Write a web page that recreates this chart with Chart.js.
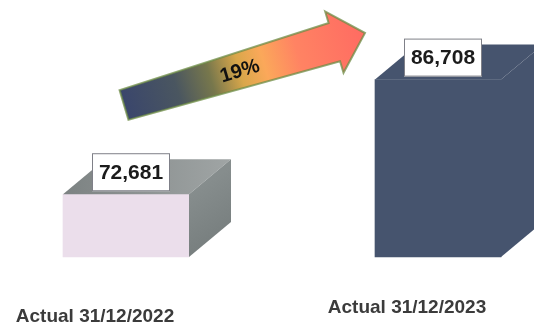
<!DOCTYPE html>
<html>
<head>
<meta charset="utf-8">
<script src="https://cdn.jsdelivr.net/npm/chart.js@4/dist/chart.umd.min.js"></script>
<style>
  body { margin: 0; background: #fff; }
  canvas { display: block; }
</style>
</head>
<body>
<canvas id="myChart" width="534" height="322"></canvas>
<script>
// data
const categories = ['Actual 31/12/2022', 'Actual 31/12/2023'];
const values = [72681, 86708];
const axisMin = 65000, axisMax = 94000;

// look
const frontColors = ['#ebdeeb', '#46546e'];
const topColors = [['#7c8282', '#a0a5a5'], ['#46546e', '#46546e']];
const sideColors = [['#868d8d', '#727979'], ['#46546e', '#46546e']];
const depthX = 42, depthY = -35;
const labelDy = [60, 51]; // category labels sit at slightly different heights

function growthText() {
    return Math.round((values[1] - values[0]) / values[0] * 100) + '%';
}

const boxes3d = {
    id: 'boxes3d',
    afterDatasetsDraw(chart) {
        const ctx = chart.ctx, ca = chart.chartArea;
        const xs = chart.scales.x;
        const meta = chart.getDatasetMeta(0);
        ctx.save();
        meta.data.forEach(function(bar, i) {
            const l = bar.x - bar.width / 2, r = bar.x + bar.width / 2;
            const t = bar.y, b = bar.base;
            // top face
            let g = ctx.createLinearGradient(l, t, r + depthX, t);
            g.addColorStop(0, topColors[i][0]);
            g.addColorStop(1, topColors[i][1]);
            ctx.fillStyle = g;
            ctx.beginPath();
            ctx.moveTo(l, t);
            ctx.lineTo(l + depthX, t + depthY);
            ctx.lineTo(r + depthX, t + depthY);
            ctx.lineTo(r, t);
            ctx.closePath();
            ctx.fill();
            // side face
            g = ctx.createLinearGradient(r, t, r + depthX, b);
            g.addColorStop(0, sideColors[i][0]);
            g.addColorStop(1, sideColors[i][1]);
            ctx.fillStyle = g;
            ctx.beginPath();
            ctx.moveTo(r, t);
            ctx.lineTo(r + depthX, t + depthY);
            ctx.lineTo(r + depthX, b + depthY);
            ctx.lineTo(r, b);
            ctx.closePath();
            ctx.fill();
        });

        // growth arrow
        const tx = xs.getPixelForValue(0) - 2, ty = ca.top + 85;
        const hx = xs.getPixelForValue(1) - 73, hy = ca.top + 13;
        const ang = Math.atan2(hy - ty, hx - tx), L = Math.hypot(hx - tx, hy - ty);
        ctx.save();
        ctx.translate(tx, ty);
        ctx.rotate(ang);
        const ag = ctx.createLinearGradient(0, 0, L, 0);
        ag.addColorStop(0, '#3a466c');
        ag.addColorStop(0.22, '#4a5660');
        ag.addColorStop(0.36, '#77774c');
        ag.addColorStop(0.48, '#d9a74a');
        ag.addColorStop(0.58, '#fba85a');
        ag.addColorStop(0.72, '#ff8363');
        ag.addColorStop(1, '#ff6b62');
        ctx.beginPath();
        ctx.moveTo(0, -15.5);
        ctx.lineTo(L - 32, -20);
        ctx.lineTo(L - 32, -32);
        ctx.lineTo(L, 0);
        ctx.lineTo(L - 32, 32);
        ctx.lineTo(L - 32, 20);
        ctx.lineTo(0, 15.5);
        ctx.closePath();
        ctx.fillStyle = ag;
        ctx.fill();
        ctx.lineWidth = 2;
        ctx.strokeStyle = 'rgba(110,140,70,0.75)';
        ctx.stroke();
        ctx.fillStyle = '#111';
        ctx.font = 'bold 20px "Liberation Sans", Arial, sans-serif';
        ctx.textAlign = 'center';
        ctx.textBaseline = 'middle';
        ctx.fillText(growthText(), L * 0.48, 1);
        ctx.restore();

        // value boxes
        ctx.font = 'bold 21px "Liberation Sans", Arial, sans-serif';
        ctx.textAlign = 'center';
        ctx.textBaseline = 'middle';
        meta.data.forEach(function(bar, i) {
            const bw = 78, bh = 38;
            const cx = bar.x + 5, bottom = bar.y - 3;
            ctx.fillStyle = '#fff';
            ctx.fillRect(cx - bw / 2, bottom - bh, bw, bh);
            ctx.lineWidth = 1;
            ctx.strokeStyle = '#7f8088';
            ctx.strokeRect(cx - bw / 2 + 0.5, bottom - bh + 0.5, bw - 1, bh - 1);
            ctx.fillStyle = '#1b1b1b';
            ctx.fillText(values[i].toLocaleString('en-US'), cx, bottom - bh / 2 + 1);
        });

        // category labels
        ctx.font = 'bold 19px "Liberation Sans", Arial, sans-serif';
        ctx.fillStyle = '#3b3b3b';
        categories.forEach(function(c, i) {
            ctx.fillText(c, xs.getPixelForValue(i) - 31, ca.bottom + labelDy[i]);
        });
        ctx.restore();
    }
};

const chart = new Chart(document.getElementById('myChart').getContext('2d'), {
    type: 'bar',
    data: {
        labels: categories,
        datasets: [{
            data: values,
            base: axisMin,
            backgroundColor: frontColors,
            borderWidth: 0,
            barThickness: 126,
            clip: false
        }]
    },
    options: {
        responsive: false,
        animation: false,
        layout: { padding: { left: 126, right: 96, top: 20, bottom: 65 } },
        plugins: { legend: { display: false }, tooltip: { enabled: false } },
        scales: {
            x: { display: false, offset: false },
            y: { display: false, min: axisMin, max: axisMax }
        }
    },
    plugins: [boxes3d]
});
</script>
</body>
</html>
